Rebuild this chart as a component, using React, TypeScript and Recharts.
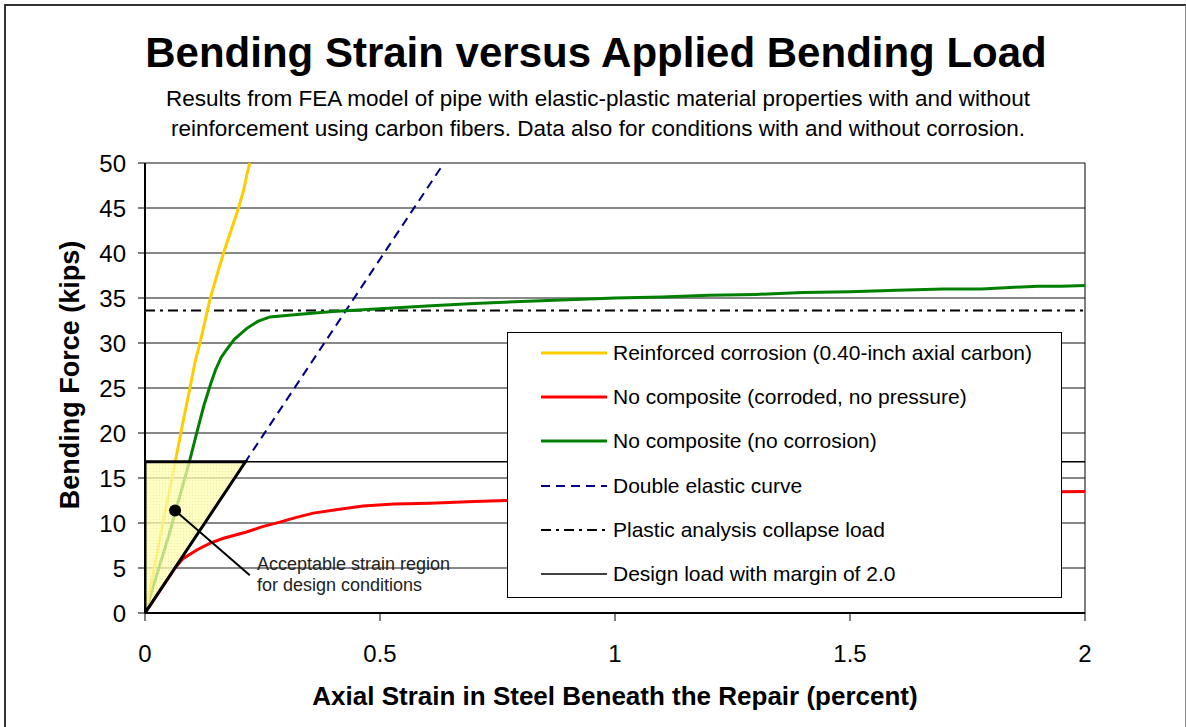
import React from "react";
import {
  Area,
  CartesianGrid,
  ComposedChart,
  Legend,
  Line,
  ReferenceDot,
  ReferenceLine,
  XAxis,
  YAxis,
} from "recharts";

// strain (percent), force (kips)
const reinforcedCorrosion: [number, number][] = [
  [0, 0], [0.02, 5], [0.04, 10.5], [0.064, 16.7], [0.08, 21], [0.096, 25.1],
  [0.107, 28], [0.117, 30], [0.128, 32.5], [0.138, 34.8], [0.15, 37],
  [0.167, 40], [0.185, 42.8], [0.199, 45], [0.21, 47], [0.218, 49], [0.223, 50],
];

const corrodedNoPressure: [number, number][] = [
  [0, 0], [0.064, 5], [0.08, 6], [0.11, 7], [0.14, 7.8], [0.167, 8.3],
  [0.216, 9], [0.25, 9.6], [0.287, 10.1], [0.32, 10.6], [0.358, 11.1],
  [0.41, 11.5], [0.464, 11.9], [0.53, 12.1], [0.606, 12.2], [0.7, 12.4],
  [0.77, 12.5], [1.0, 12.8], [1.3, 13.1], [1.6, 13.3], [1.9, 13.45], [2.0, 13.5],
];

const noCorrosion: [number, number][] = [
  [0, 0], [0.05, 8.5], [0.094, 16.7], [0.11, 20], [0.125, 23], [0.14, 25.5],
  [0.15, 27], [0.162, 28.4], [0.174, 29.3], [0.19, 30.4], [0.216, 31.6], [0.24, 32.4],
  [0.266, 32.9], [0.33, 33.2], [0.4, 33.5], [0.5, 33.8], [0.6, 34.1],
  [0.7, 34.4], [0.8, 34.6], [0.9, 34.8], [1.0, 35.0], [1.1, 35.1], [1.2, 35.3],
  [1.3, 35.4], [1.4, 35.6], [1.5, 35.7], [1.6, 35.85], [1.7, 36.0],
  [1.78, 36.0], [1.85, 36.2], [1.9, 36.3], [1.95, 36.3], [2.0, 36.4],
];

const doubleElastic: [number, number][] = [[0, 0], [0.636, 50]];

const collapseLoad = 33.6;
const designLoad = 16.8;
const designStrain = 0.2137;

const acceptableRegion: [number, number][] = [
  [0, designLoad], [0, 0], [designStrain, designLoad], [0, designLoad],
];

const annotationPoint = { x: 0.064, y: 11.4 };
const annotationTail = { x: 0.223, y: 4.2 };
const annotationText = ["Acceptable strain region", "for design conditions"];

const xTicks = [0, 0.5, 1, 1.5, 2];
const yTicks = [0, 5, 10, 15, 20, 25, 30, 35, 40, 45, 50];

const legendLabels = [
  "Reinforced corrosion (0.40-inch axial carbon)",
  "No composite (corroded, no pressure)",
  "No composite (no corrosion)",
  "Double elastic curve",
  "Plastic analysis collapse load",
  "Design load with margin of 2.0",
];

const title = "Bending Strain versus Applied Bending Load";
const subtitle = [
  "Results from FEA model of pipe with elastic-plastic material properties with and without",
  "reinforcement using carbon fibers. Data also for conditions with and without corrosion.",
];

const pts = (a: [number, number][]) => a.map(([x, y]) => ({ x, y }));

const colors = {
  yellow: "#FFCC00",
  red: "#FF0000",
  green: "#008000",
  navy: "#000080",
  black: "#000000",
};

const legendStyles = [
  { stroke: colors.yellow, width: 3, dash: undefined },
  { stroke: colors.red, width: 3, dash: undefined },
  { stroke: colors.green, width: 3, dash: undefined },
  { stroke: colors.navy, width: 2, dash: "9 6" },
  { stroke: colors.black, width: 2, dash: "10 5 3 5" },
  { stroke: colors.black, width: 1.5, dash: undefined },
];

function LegendBox() {
  return (
    <div
      style={{
        position: "relative",
        width: 555,
        height: 266,
        border: "1px solid #000",
        background: "#fff",
        boxSizing: "border-box",
      }}
    >
      {legendLabels.map((label, i) => {
        const s = legendStyles[i];
        return (
          <div
            key={label}
            style={{
              position: "absolute",
              left: 33,
              top: 20 + i * 44.2 - 12,
              height: 24,
              display: "flex",
              alignItems: "center",
              whiteSpace: "nowrap",
            }}
          >
            <svg width={72} height={24}>
              <line x1={0} x2={66} y1={12} y2={12} stroke={s.stroke} strokeWidth={s.width} strokeDasharray={s.dash} />
            </svg>
            <span style={{ fontSize: 21, color: "#000" }}>{label}</span>
          </div>
        );
      })}
    </div>
  );
}

export default function App() {
  return (
    <div
      style={{
        position: "absolute",
        left: 0,
        top: 0,
        width: 1186,
        height: 727,
        overflow: "hidden",
        background: "#fff",
        fontFamily: "'Liberation Sans', Arial, sans-serif",
      }}
    >
      <div
        style={{
          position: "absolute",
          left: 4,
          top: 4,
          width: 1179,
          height: 760,
          borderTop: "2px solid #333",
          borderLeft: "2px solid #333",
          borderRight: "1px solid #888",
        }}
      />
      <div
        style={{
          position: "absolute",
          left: 0,
          width: 1192,
          top: 32,
          textAlign: "center",
          fontSize: 42,
          lineHeight: "42px",
          fontWeight: "bold",
          color: "#000",
        }}
      >
        {title}
      </div>
      <div
        style={{
          position: "absolute",
          left: 0,
          width: 1196,
          top: 84,
          textAlign: "center",
          fontSize: 22.5,
          lineHeight: "30px",
          color: "#000",
        }}
      >
        {subtitle.map((s) => (
          <div key={s}>{s}</div>
        ))}
      </div>

      <div style={{ position: "absolute", left: 0, top: 0 }}>
        <ComposedChart width={1186} height={727} margin={{ top: 163, right: 101, bottom: 0, left: 0 }}>
          <defs>
            <pattern id="hatch" width="3" height="3" patternUnits="userSpaceOnUse">
              <rect width="3" height="3" fill="#FFFFB0" />
              <rect width="1" height="1" fill="#E8E890" />
            </pattern>
          </defs>
          <CartesianGrid stroke="#111" strokeWidth={1} vertical={false} />
          <XAxis
            dataKey="x"
            type="number"
            domain={[0, 2]}
            ticks={xTicks}
            allowDataOverflow
            height={114}
            tickSize={8}
            tickMargin={24}
            tick={{ fill: "#000", fontSize: 24 }}
            axisLine={{ stroke: "#000", strokeWidth: 2 }}
            tickLine={{ stroke: "#000" }}
            label={{
              value: "Axial Strain in Steel Beneath the Repair (percent)",
              position: "center",
              dy: 26,
              fill: "#000",
              fontSize: 26,
              fontWeight: "bold",
            }}
          />
          <YAxis
            type="number"
            domain={[0, 50]}
            ticks={yTicks}
            allowDataOverflow
            width={145}
            tickSize={7}
            tickMargin={12}
            tick={{ fill: "#000", fontSize: 24 }}
            axisLine={{ stroke: "#000", strokeWidth: 2 }}
            tickLine={{ stroke: "#000" }}
            label={{
              value: "Bending Force (kips)",
              angle: -90,
              position: "center",
              dx: -3,
              dy: -13,
              fill: "#000",
              fontSize: 27,
              fontWeight: "bold",
            }}
          />
          <ReferenceLine x={2} stroke="#000" strokeWidth={1} />
          <ReferenceLine y={designLoad} stroke="#000" strokeWidth={1.5} />
          <ReferenceLine y={collapseLoad} stroke="#000" strokeWidth={2} strokeDasharray="10 5 3 5" />
          <Line
            data={pts(doubleElastic)}
            dataKey="y"
            stroke={colors.navy}
            strokeWidth={2}
            strokeDasharray="9 6"
            dot={false}
            isAnimationActive={false}
          />
          <Line
            data={pts(corrodedNoPressure)}
            dataKey="y"
            stroke={colors.red}
            strokeWidth={3}
            dot={false}
            isAnimationActive={false}
          />
          <Line
            data={pts(noCorrosion)}
            dataKey="y"
            stroke={colors.green}
            strokeWidth={3}
            dot={false}
            isAnimationActive={false}
          />
          <Line
            data={pts(reinforcedCorrosion)}
            dataKey="y"
            stroke={colors.yellow}
            strokeWidth={3}
            dot={false}
            isAnimationActive={false}
          />
          <Area
            data={[
              { x: 0, r: [0, designLoad] },
              { x: designStrain, r: [designLoad, designLoad] },
            ]}
            dataKey="r"
            type="linear"
            stroke="none"
            fill="url(#hatch)"
            fillOpacity={0.75}
            zIndex={450}
            isAnimationActive={false}
          />
          <Line
            data={pts(acceptableRegion)}
            dataKey="y"
            stroke="#000"
            strokeWidth={3}
            dot={false}
            zIndex={460}
            isAnimationActive={false}
          />
          <ReferenceLine
            segment={[annotationPoint, annotationTail]}
            stroke="#000"
            strokeWidth={2}
            zIndex={470}
          />
          <ReferenceDot
            x={annotationPoint.x}
            y={annotationPoint.y}
            r={6}
            fill="#000"
            stroke="none"
            zIndex={480}
          />
          <Legend
            layout="horizontal"
            verticalAlign="middle"
            content={() => <LegendBox />}
            wrapperStyle={{ left: 507, top: 332, width: 556, height: 267 }}
          />
        </ComposedChart>
      </div>

      <div
        style={{
          position: "absolute",
          left: 257,
          top: 554,
          fontSize: 18,
          lineHeight: "21px",
          color: "#222",
          whiteSpace: "nowrap",
        }}
      >
        {annotationText.map((t) => (
          <div key={t}>{t}</div>
        ))}
      </div>
    </div>
  );
}
